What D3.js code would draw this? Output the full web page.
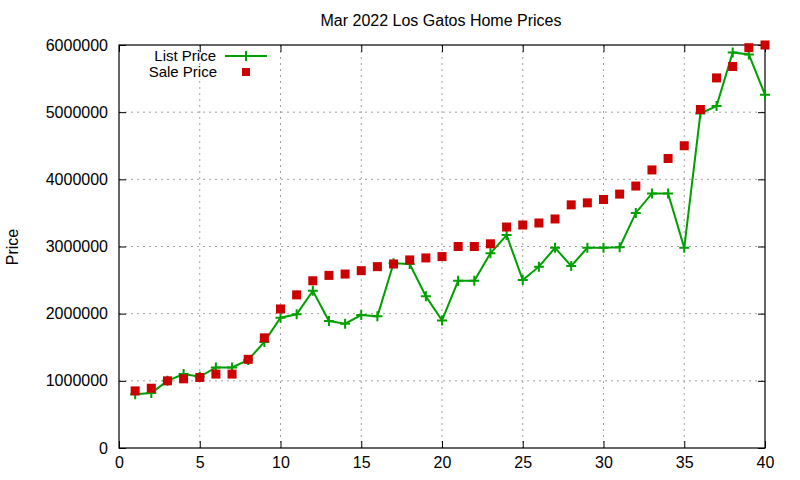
<!DOCTYPE html>
<html>
<head>
<meta charset="utf-8">
<script src="https://cdn.jsdelivr.net/npm/d3@7"></script>
<style>
  body { margin: 0; background: #fff; }
  svg { font-family: "Liberation Sans", Arial, sans-serif; }
</style>
</head>
<body>
<svg id="chart" width="800" height="480"></svg>
<script>
// --- Data ---
const index = d3.range(1, 41);
const listPrice = [
  800000, 820000, 1000000, 1100000, 1060000, 1200000, 1200000, 1310000, 1580000, 1940000,
  1990000, 2340000, 1890000, 1850000, 1980000, 1960000, 2750000, 2740000, 2260000, 1900000,
  2490000, 2490000, 2900000, 3170000, 2500000, 2700000, 2980000, 2710000, 2980000, 2980000,
  2990000, 3500000, 3790000, 3790000, 2980000, 4980000, 5090000, 5890000, 5860000, 5260000
];
const salePrice = [
  850000, 890000, 1000000, 1030000, 1050000, 1100000, 1100000, 1320000, 1640000, 2070000,
  2280000, 2490000, 2570000, 2590000, 2640000, 2700000, 2740000, 2800000, 2830000, 2850000,
  3000000, 3000000, 3040000, 3290000, 3320000, 3350000, 3410000, 3620000, 3650000, 3700000,
  3780000, 3900000, 4140000, 4310000, 4500000, 5040000, 5510000, 5680000, 5960000, 6000000
];
const xTicks = [0, 5, 10, 15, 20, 25, 30, 35, 40];
const yTicks = [0, 1000000, 2000000, 3000000, 4000000, 5000000, 6000000];

const listData = index.map((x, i) => ({ x, y: listPrice[i] }));
const saleData = index.map((x, i) => ({ x, y: salePrice[i] }));

// --- Layout ---
const margin = { top: 45, right: 35, bottom: 32, left: 119 };
const width = 800 - margin.left - margin.right;
const height = 480 - margin.top - margin.bottom;

const svg = d3.select("#chart");
const g = svg.append("g").attr("transform", `translate(${margin.left},${margin.top})`);

const xScale = d3.scaleLinear().domain([0, 40]).range([0, width]);
const yScale = d3.scaleLinear().domain([0, 6000000]).range([height, 0]);

// --- Grid ---
g.append("g")
  .selectAll("line")
  .data(xTicks.slice(1, -1))
  .join("line")
  .attr("x1", d => xScale(d)).attr("x2", d => xScale(d))
  .attr("y1", 0).attr("y2", height)
  .attr("stroke", "#a0a0a0").attr("stroke-dasharray", "2,4");
g.append("g")
  .selectAll("line")
  .data(yTicks.slice(1, -1))
  .join("line")
  .attr("x1", 0).attr("x2", width)
  .attr("y1", d => yScale(d)).attr("y2", d => yScale(d))
  .attr("stroke", "#a0a0a0").attr("stroke-dasharray", "2,4");

// --- Axes (inward ticks, mirrored) ---
const styleAxis = sel => {
  sel.select(".domain").remove();
  sel.selectAll(".tick line").attr("stroke", "#000");
  sel.selectAll("text").attr("fill", "#000").style("font-size", "16px");
};
g.append("g")
  .attr("transform", `translate(0,${height})`)
  .call(d3.axisBottom(xScale).tickValues(xTicks).tickSizeInner(-7).tickSizeOuter(0).tickPadding(9))
  .call(styleAxis);
g.append("g")
  .call(d3.axisTop(xScale).tickValues(xTicks).tickSizeInner(-7).tickSizeOuter(0).tickFormat(""))
  .call(styleAxis);
g.append("g")
  .call(d3.axisLeft(yScale).tickValues(yTicks).tickSizeInner(-7).tickSizeOuter(0)
    .tickPadding(11).tickFormat(d3.format("d")))
  .call(styleAxis);
g.append("g")
  .attr("transform", `translate(${width},0)`)
  .call(d3.axisRight(yScale).tickValues(yTicks).tickSizeInner(-7).tickSizeOuter(0).tickFormat(""))
  .call(styleAxis);

g.append("rect")
  .attr("width", width).attr("height", height)
  .attr("fill", "none").attr("stroke", "#000").attr("stroke-width", 1.2);

// --- Series ---
const green = "#00a000";
const red = "#cc0000";

g.append("path")
  .datum(listData)
  .attr("fill", "none")
  .attr("stroke", green)
  .attr("stroke-width", 2)
  .attr("d", d3.line().x(d => xScale(d.x)).y(d => yScale(d.y)));

g.append("g")
  .selectAll("path")
  .data(listData)
  .join("path")
  .attr("transform", d => `translate(${xScale(d.x)},${yScale(d.y)})`)
  .attr("d", "M-5,0H5M0,-5V5")
  .attr("stroke", green)
  .attr("stroke-width", 2);

g.append("g")
  .selectAll("rect")
  .data(saleData)
  .join("rect")
  .attr("x", d => xScale(d.x) - 4.5)
  .attr("y", d => yScale(d.y) - 4.5)
  .attr("width", 9).attr("height", 9)
  .attr("fill", red);

// --- Legend ---
const legend = svg.append("g");
legend.append("text")
  .attr("x", 216).attr("y", 61)
  .attr("text-anchor", "end").style("font-size", "15px").attr("fill", "#000")
  .text("List Price");
legend.append("text")
  .attr("x", 217).attr("y", 77)
  .attr("text-anchor", "end").style("font-size", "15px").attr("fill", "#000")
  .text("Sale Price");
legend.append("line")
  .attr("x1", 225).attr("x2", 267).attr("y1", 56).attr("y2", 56)
  .attr("stroke", green).attr("stroke-width", 2);
legend.append("path")
  .attr("transform", "translate(246,56)")
  .attr("d", "M-5,0H5M0,-5V5")
  .attr("stroke", green).attr("stroke-width", 2);
legend.append("rect")
  .attr("x", 242).attr("y", 68).attr("width", 8).attr("height", 8)
  .attr("fill", red);

// --- Title and axis label ---
svg.append("text")
  .attr("x", 441).attr("y", 26)
  .attr("text-anchor", "middle").style("font-size", "16px").attr("fill", "#000")
  .text("Mar 2022 Los Gatos Home Prices");
svg.append("text")
  .attr("transform", "translate(18,247) rotate(-90)")
  .attr("text-anchor", "middle").style("font-size", "16px").attr("fill", "#000")
  .text("Price");
</script>
</body>
</html>
